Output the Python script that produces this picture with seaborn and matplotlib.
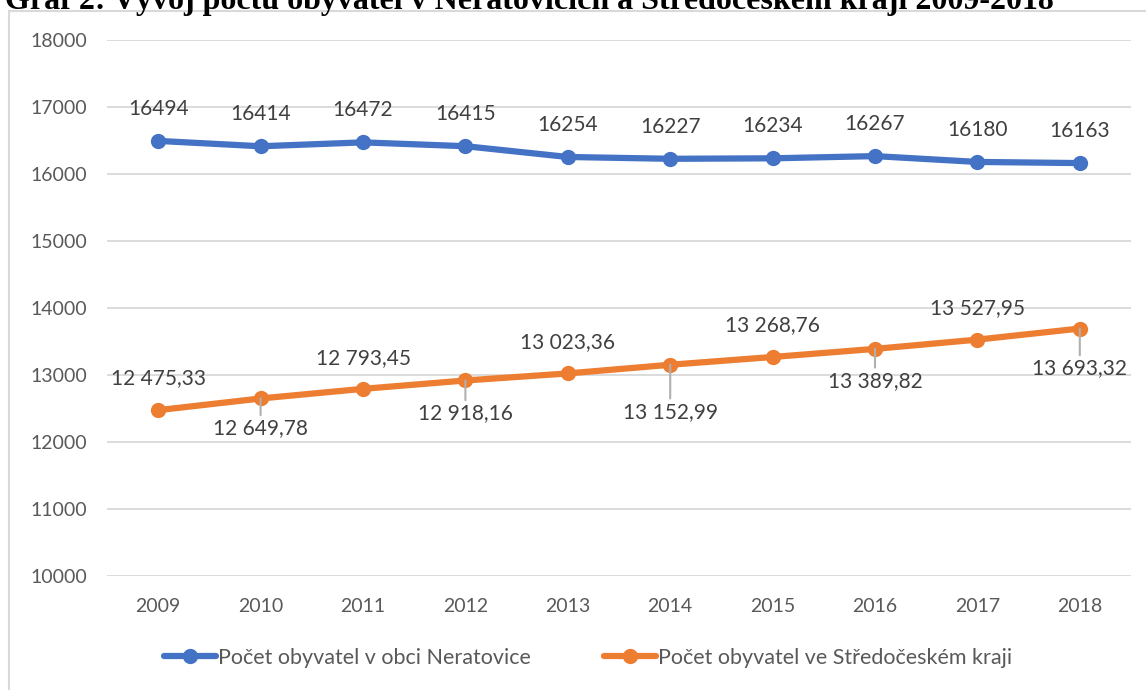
import matplotlib
matplotlib.use("Agg")
import matplotlib.pyplot as plt
import pandas as pd
import seaborn as sns

years = ['2009', '2010', '2011', '2012', '2013', '2014', '2015', '2016', '2017', '2018']
neratovice = [16494, 16414, 16472, 16415, 16254, 16227, 16234, 16267, 16180, 16163]
kraj = [12475.33, 12649.78, 12793.45, 12918.16, 13023.36, 13152.99, 13268.76, 13389.82, 13527.95, 13693.32]
name_a = 'Počet obyvatel v obci Neratovice'
name_b = 'Počet obyvatel ve Středočeském kraji'

df = pd.DataFrame({
    'Rok': years * 2,
    'Pocet': neratovice + kraj,
    'Serie': [name_a] * len(years) + [name_b] * len(years),
})

blue = '#4472C4'
orange = '#ED7D31'

sns.set_style("white")
plt.rcParams['font.family'] = ['Lato', 'DejaVu Sans']

fig = plt.figure(figsize=(11.46, 6.9), dpi=100)
ax = fig.add_axes([107 / 1146, 1 - 576 / 690, (1131 - 107) / 1146, (576 - 40) / 690])

sns.lineplot(data=df, x='Rok', y='Pocet', hue='Serie', palette=[blue, orange],
             marker='o', markersize=11, markeredgewidth=0, linewidth=4.5,
             ax=ax, legend=True)

ax.set_xlim(-0.5, 9.5)
ax.set_ylim(10000, 18000)
ax.set_yticks(range(10000, 18001, 1000))
ax.yaxis.grid(True, color='#D9D9D9', linewidth=1.3)
ax.set_axisbelow(True)
for s in ax.spines.values():
    s.set_visible(False)
ax.tick_params(axis='both', length=0, labelsize=14, labelcolor='#595959')
ax.tick_params(axis='x', pad=16)
ax.tick_params(axis='y', pad=14)
ax.set_xlabel('')
ax.set_ylabel('')

px = 72 / 100  # points per pixel
lab_col = '#404040'
for i, v in enumerate(neratovice):
    ax.annotate(str(v), (i, v), xytext=(0, 32 * px), textcoords='offset points',
                ha='center', va='center', fontsize=15, color=lab_col)

# orange labels: above / below alternating, offsets in px
offs = [32, -30, 31, -33, 31, -47, 32, -32, 32, -40]
for i, v in enumerate(kraj):
    txt = '{:,.2f}'.format(v).replace(',', ' ').replace('.', ',')
    if offs[i] < 0:
        ax.annotate(txt, (i, v), xytext=(0, offs[i] * px), textcoords='offset points',
                    ha='center', va='center', fontsize=15, color=lab_col,
                    arrowprops=dict(arrowstyle='-', color='#B0B0B0', lw=1.5,
                                    shrinkA=0, shrinkB=0))
    else:
        ax.annotate(txt, (i, v), xytext=(0, offs[i] * px), textcoords='offset points',
                    ha='center', va='center', fontsize=15, color=lab_col)

# redraw lines over leader lines
for ln in ax.lines:
    ln.set_zorder(3)

leg = ax.legend(loc='center', bbox_to_anchor=(0.513, (690 - 658) / 690), bbox_transform=fig.transFigure,
                ncol=2, frameon=False, fontsize=15.5, handlelength=2.4, columnspacing=3.4,
                handletextpad=0.1)
for t in leg.get_texts():
    t.set_color('#595959')

# chart area border
fig.patches.append(plt.Rectangle((9 / 1146, -0.05), 1.2, 1 - 11 / 690 + 0.05,
                                 transform=fig.transFigure, fill=False,
                                 edgecolor='#D9D9D9', linewidth=1.5, zorder=0))

fig.text(5 / 1146, 1 - 9 / 690,
         'Graf 2: Vývoj počtu obyvatel v Neratovicích a Středočeském kraji 2009-2018',
         ha='left', va='baseline', fontsize=23, fontweight='bold',
         family='Liberation Serif', color='black')

fig.savefig('out.png', dpi=100)
